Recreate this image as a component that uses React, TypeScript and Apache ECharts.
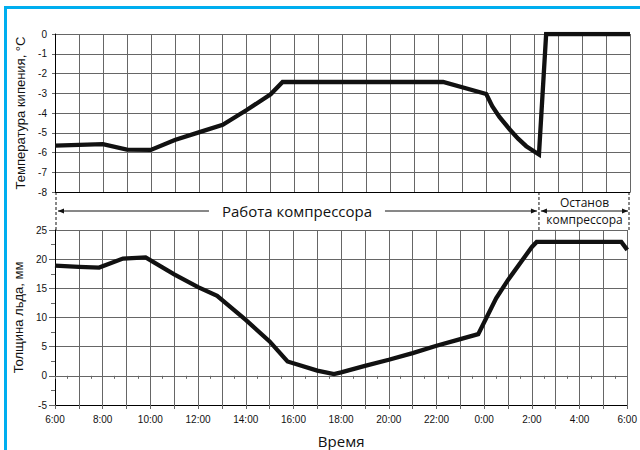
import React, { useEffect, useRef } from "react";
import * as echarts from "echarts";

// hours elapsed since 6:00
const hourLabels = ["6:00", "8:00", "10:00", "12:00", "14:00", "16:00", "18:00", "20:00", "22:00", "0:00", "2:00", "4:00", "6:00"];
const tempHours = [0, 2, 3, 4, 5, 6, 7, 8, 9, 9.5, 16.2, 18, 18.25, 18.55, 19, 19.33, 19.67, 20.2, 20.5, 24];
const tempValues = [-5.65, -5.58, -5.85, -5.87, -5.37, -4.98, -4.6, -3.85, -3.05, -2.43, -2.43, -3.04, -3.65, -4.2, -4.86, -5.3, -5.68, -6.1, 0, 0];
const iceHours = [0, 1, 1.85, 2.85, 3.8, 5, 6, 6.8, 8, 9, 9.75, 11, 11.7, 12, 13, 14, 15, 16, 17, 17.75, 18.5, 19, 20, 20.2, 23.75, 24];
const iceValues = [18.9, 18.67, 18.55, 20.1, 20.3, 17.4, 15.2, 13.7, 9.6, 5.9, 2.46, 0.9, 0.3, 0.6, 1.7, 2.75, 3.9, 5.15, 6.3, 7.15, 13.3, 16.45, 22.1, 22.95, 22.95, 21.6];
const stopHour = 20.2;
const workLabel = "Работа компрессора";
const stopLabel1 = "Останов";
const stopLabel2 = "компрессора";
const tempTitle = "Температура кипения, °C";
const iceTitle = "Толщина льда, мм";
const timeTitle = "Время";

const GRID_COLOR = "#666";
const LABEL_FONT = "'Liberation Sans', Arial, sans-serif";
const TITLE_FONT = "'Open Sans', 'Noto Sans', sans-serif";

export default function App() {
  const ref = useRef<HTMLDivElement>(null);
  useEffect(() => {
    if (!ref.current) return;
    const chart = echarts.init(ref.current, null, { renderer: "svg" });
    const xBase = (gridIndex: number, showLabels: boolean) => ({
      type: "value",
      gridIndex,
      min: 0,
      max: 24,
      interval: 1,
      axisLine: { show: true, onZero: false, lineStyle: { color: "#000", width: 1 } },
      axisTick: { show: showLabels, length: 4, lineStyle: { color: GRID_COLOR } },
      axisLabel: {
        show: showLabels,
        margin: 9,
        fontSize: 10,
        fontFamily: LABEL_FONT,
        color: "#111",
        formatter: (v: number) => (v % 2 === 0 ? hourLabels[v / 2] : ""),
      },
      splitLine: { show: true, lineStyle: { color: GRID_COLOR, width: 1 } },
    });
    const option: any = {
      animation: false,
      backgroundColor: "#fff",
      grid: [
        { left: 55, top: 34, width: 575, height: 158 },
        { left: 55, top: 230, width: 575, height: 175 },
      ],
      xAxis: [
        xBase(0, false),
        {
          ...xBase(1, true),
          name: timeTitle,
          nameLocation: "middle",
          nameGap: 28,
          nameTextStyle: { fontSize: 15, fontFamily: TITLE_FONT, color: "#111" },
        },
        {
          type: "value",
          gridIndex: 1,
          min: 0,
          max: 24,
          interval: 0.5,
          axisLine: { show: false },
          axisTick: { show: true, inside: true, length: 3, lineStyle: { color: GRID_COLOR } },
          axisLabel: { show: false },
          splitLine: { show: false },
        },
      ],
      yAxis: [
        {
          type: "value",
          gridIndex: 0,
          min: -8,
          max: 0,
          interval: 1,
          axisLine: { show: true, lineStyle: { color: "#000" } },
          axisTick: { show: true, length: 3, lineStyle: { color: GRID_COLOR } },
          axisLabel: { margin: 8, fontSize: 10, fontFamily: LABEL_FONT, color: "#111" },
          splitLine: { show: true, lineStyle: { color: GRID_COLOR } },
          name: tempTitle,
          nameLocation: "middle",
          nameGap: 28,
          nameTextStyle: { fontSize: 13, fontFamily: LABEL_FONT, color: "#111" },
        },
        {
          type: "value",
          gridIndex: 1,
          min: -5,
          max: 25,
          interval: 5,
          axisLine: { show: true, lineStyle: { color: "#000" } },
          axisTick: { show: true, length: 6, lineStyle: { color: GRID_COLOR } },
          axisLabel: { margin: 8, fontSize: 10, fontFamily: LABEL_FONT, color: "#111" },
          splitLine: { show: true, lineStyle: { color: GRID_COLOR } },
          name: iceTitle,
          nameLocation: "middle",
          nameGap: 28,
          nameTextStyle: { fontSize: 13, fontFamily: LABEL_FONT, color: "#111" },
        },
        {
          type: "value",
          gridIndex: 1,
          min: -5,
          max: 25,
          interval: 2.5,
          axisLine: { show: false },
          axisTick: { show: true, inside: true, length: 4, lineStyle: { color: GRID_COLOR } },
          axisLabel: { show: false },
          splitLine: { show: false },
        },
      ],
      series: [
        {
          type: "line",
          xAxisIndex: 0,
          yAxisIndex: 0,
          data: tempHours.map((h, i) => [h, tempValues[i]]),
          symbol: "none",
          lineStyle: { color: "#111", width: 4.3, join: "miter" },
        },
        {
          type: "line",
          xAxisIndex: 1,
          yAxisIndex: 1,
          data: iceHours.map((h, i) => [h, iceValues[i]]),
          symbol: "none",
          lineStyle: { color: "#111", width: 4.3, join: "miter" },
        },
      ],
    };
    chart.setOption(option);

    const px = (h: number) => chart.convertToPixel({ xAxisIndex: 0 }, h) as number;
    const yTop = chart.convertToPixel({ yAxisIndex: 0 }, -8) as number;
    const yBot = chart.convertToPixel({ yAxisIndex: 1 }, 25) as number;
    const yMid = (yTop + yBot) / 2;
    const x0 = px(0);
    const xs = px(stopHour);
    const x1 = px(24);
    const dashed = (x: number) => ({
      type: "line",
      shape: { x1: x, y1: yTop, x2: x, y2: yBot },
      style: { stroke: "#111", lineWidth: 1, lineDash: [3, 2] },
      silent: true,
    });
    const arrowHead = (x: number, dir: number) => ({
      type: "polygon",
      shape: { points: [[x, yMid], [x + dir * 6, yMid - 2.5], [x + dir * 6, yMid + 2.5]] },
      style: { fill: "#111" },
      silent: true,
    });
    const hline = (a: number, b: number) => ({
      type: "line",
      shape: { x1: a, y1: yMid, x2: b, y2: yMid },
      style: { stroke: "#111", lineWidth: 1 },
      silent: true,
    });
    const workCenter = (x0 + xs) / 2;
    const stopCenter = (xs + x1) / 2;
    chart.setOption({
      graphic: [
        {
          type: "rect",
          shape: { x: 5.5, y: 7.5, width: 700, height: 500 },
          style: { fill: "none", stroke: "#00aeef", lineWidth: 3 },
          silent: true,
        },
        dashed(x0 + 1),
        dashed(xs),
        dashed(x1 - 1),
        hline(x0 + 3, workCenter - 88),
        arrowHead(x0 + 3, 1),
        hline(workCenter + 88, xs - 2),
        arrowHead(xs - 2, -1),
        {
          type: "text",
          style: {
            text: workLabel,
            x: workCenter,
            y: yMid,
            align: "center",
            verticalAlign: "middle",
            fontSize: 15,
            fontFamily: TITLE_FONT,
            fill: "#111",
          },
          silent: true,
        },
        hline(xs + 2, x1 - 2),
        arrowHead(xs + 2, 1),
        arrowHead(x1 - 2, -1),
        {
          type: "rect",
          shape: { x: stopCenter - 40, y: yMid - 18, width: 80, height: 13 },
          style: { fill: "#fff" },
          silent: true,
        },
        {
          type: "rect",
          shape: { x: stopCenter - 37, y: yMid + 1, width: 74, height: 14 },
          style: { fill: "#fff" },
          silent: true,
        },
        {
          type: "text",
          style: {
            text: stopLabel1,
            x: stopCenter,
            y: yMid - 9,
            align: "center",
            verticalAlign: "middle",
            fontSize: 12,
            fontFamily: TITLE_FONT,
            fill: "#111",
          },
          silent: true,
        },
        {
          type: "text",
          style: {
            text: stopLabel2,
            x: stopCenter,
            y: yMid + 8,
            align: "center",
            verticalAlign: "middle",
            fontSize: 12,
            fontFamily: TITLE_FONT,
            fill: "#111",
          },
          silent: true,
        },
      ],
    });
    return () => chart.dispose();
  }, []);
  return (
    <div
      ref={ref}
      style={{ position: "absolute", left: 0, top: 0, width: 640, height: 450, background: "#fff" }}
    />
  );
}
